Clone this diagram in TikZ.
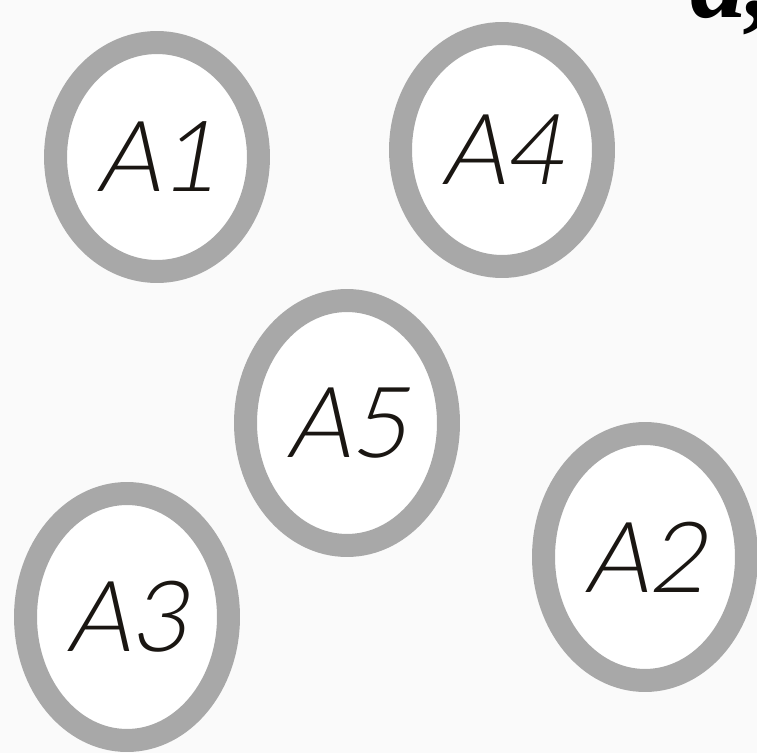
\documentclass[tikz,border=0pt]{standalone}
\usepackage{xcolor}
\usepackage{fontspec}
\setmainfont{Liberation Sans}
\newfontfamily\headfont{Liberation Serif}
\newfontfamily\handfont{Lato Light}[FakeSlant=0.18]
\usepackage{tikz}
\usetikzlibrary{shapes.geometric}
\definecolor{ring}{HTML}{A8A8A8}
\definecolor{paper}{HTML}{FAFAFA}
\definecolor{ink}{HTML}{1A1612}

\begin{document}
\begin{tikzpicture}[x=0.02cm, y=-0.02cm,
  agent/.style={ellipse, draw=ring, line width=0.46cm, fill=white, inner sep=0pt, minimum width=4.06cm, text=ink, font=\handfont\fontsize{56}{60}\selectfont},
  head/.style={inner sep=0pt, anchor=base west, font=\headfont\bfseries\itshape\fontsize{64}{64}\selectfont}]
\fill[paper] (0,0) rectangle (757,753);
\useasboundingbox (0,0) rectangle (757,753);
\node[agent, minimum height=4.58cm] (a1) at (157,157) {A1};
\node[agent, minimum height=4.66cm] (a4) at (502,150) {A4};
\node[agent, minimum height=4.90cm] (a5) at (347,423) {A5};
\node[agent, minimum height=4.94cm] (a2) at (645,557) {A2};
\node[agent, minimum height=4.94cm] (a3) at (127,617) {A3};
\node[head] (title) at (690,18) {a,};
\end{tikzpicture}
\end{document}
